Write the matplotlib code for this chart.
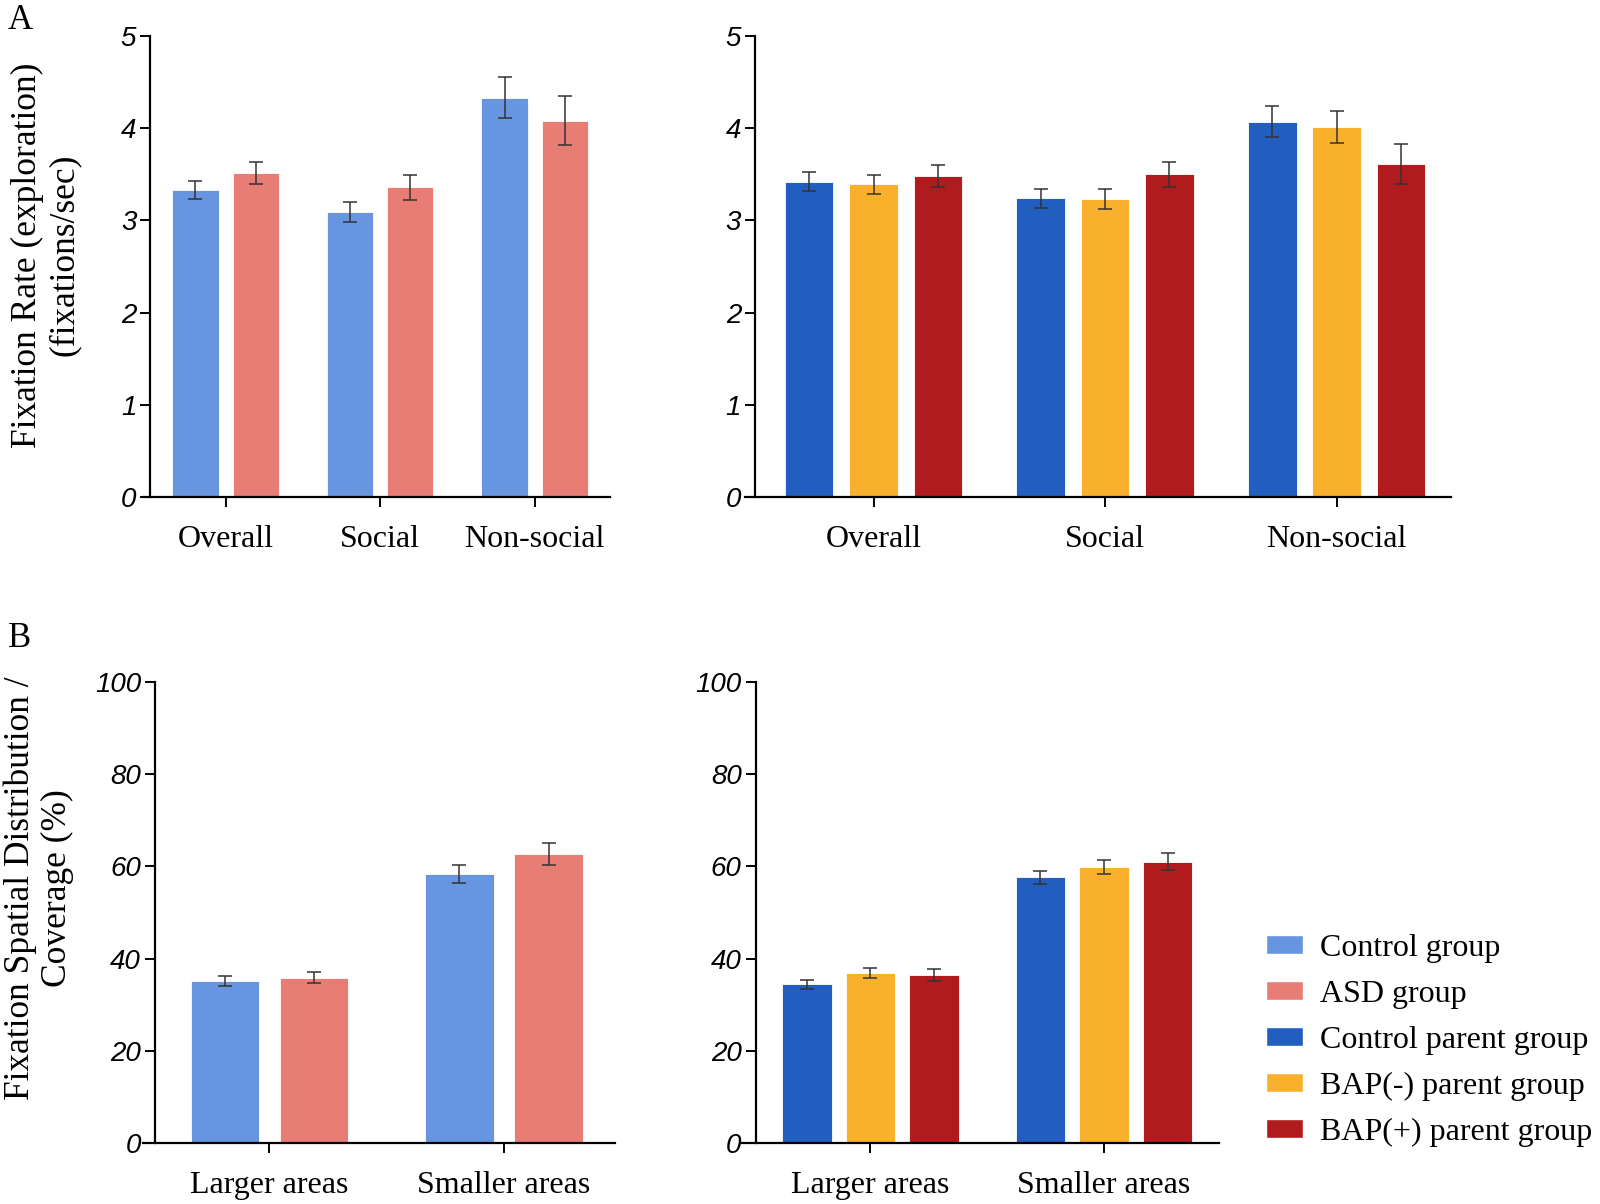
#!/usr/bin/env python3
# Fixation rate / spatial coverage bar charts (children and parents groups)

import matplotlib
matplotlib.use("Agg")
import matplotlib.pyplot as plt
from matplotlib.patches import Patch
import numpy as np

# ---------------- data ----------------
rate_cats = ["Overall", "Social", "Non-social"]
area_cats = ["Larger areas", "Smaller areas"]

child_groups = ["Control group", "ASD group"]
parent_groups = ["Control parent group", "BAP(-) parent group", "BAP(+) parent group"]

# panel A, children
rate_control = [3.33, 3.09, 4.33]
rate_control_err = [0.10, 0.11, 0.22]
rate_asd = [3.51, 3.36, 4.08]
rate_asd_err = [0.12, 0.135, 0.265]

# panel A, parents
rate_ctrl_parent = [3.42, 3.24, 4.07]
rate_ctrl_parent_err = [0.10, 0.105, 0.17]
rate_bapneg = [3.39, 3.23, 4.01]
rate_bapneg_err = [0.10, 0.11, 0.175]
rate_bappos = [3.48, 3.50, 3.61]
rate_bappos_err = [0.12, 0.135, 0.22]

# panel B, children
cov_control = [35.2, 58.4]
cov_control_err = [1.1, 1.9]
cov_asd = [35.9, 62.7]
cov_asd_err = [1.25, 2.3]

# panel B, parents
cov_ctrl_parent = [34.4, 57.6]
cov_ctrl_parent_err = [1.05, 1.4]
cov_bapneg = [36.8, 59.9]
cov_bapneg_err = [1.1, 1.45]
cov_bappos = [36.4, 61.0]
cov_bappos_err = [1.3, 1.8]

# ---------------- style ----------------
C_CTRL = "#6895e0"
C_ASD = "#e87d76"
C_PCTRL = "#225ebf"
C_BAPN = "#f9b02d"
C_BAPP = "#b01b1e"

SERIF = "Liberation Serif"
SANS = "Liberation Sans"

W, H = 1600, 1204
fig = plt.figure(figsize=(W / 100, H / 100), dpi=100)


def px_rect(l, r, t, b):
    return [l / W, 1 - b / H, (r - l) / W, (b - t) / H]


def draw_panel(rect, cats, series, errs, colors, width, offsets, xlim, yaxis_x, ylim, yticks):
    ax = fig.add_axes(rect)
    x = np.arange(len(cats))
    for vals, err, col, off in zip(series, errs, colors, offsets):
        ax.bar(x + off, vals, width=width, color=col, edgecolor="white", linewidth=0.6, zorder=2)
        ax.errorbar(x + off, vals, yerr=err, fmt="none", ecolor="#333333",
                    elinewidth=1.1, capsize=5, capthick=1.1, zorder=3)
    ax.set_xlim(*xlim)
    ax.set_ylim(*ylim)
    ax.set_yticks(list(yticks))
    ax.set_xticks(x)
    ax.set_xticklabels(cats)
    ax.spines["top"].set_visible(False)
    ax.spines["right"].set_visible(False)
    ax.spines["left"].set_position(("data", yaxis_x))
    ax.spines["left"].set_linewidth(1.6)
    ax.spines["bottom"].set_linewidth(1.6)
    ax.tick_params(axis="y", length=7, width=1.4, pad=3, labelsize=20, labelfontfamily=SANS)
    ax.tick_params(axis="x", length=7, width=1.4, pad=13, labelsize=23, labelfontfamily=SERIF)
    for lab in ax.get_yticklabels():
        lab.set_fontstyle("italic")
    return ax


# A - children
draw_panel(px_rect(143, 610, 36, 497), rate_cats,
           [rate_control, rate_asd], [rate_control_err, rate_asd_err],
           [C_CTRL, C_ASD], 0.30, [-0.195, 0.195],
           (-0.534, 2.487), -0.488, (0, 5), range(0, 6))

# A - parents
draw_panel(px_rect(745, 1451, 36, 497), rate_cats,
           [rate_ctrl_parent, rate_bapneg, rate_bappos],
           [rate_ctrl_parent_err, rate_bapneg_err, rate_bappos_err],
           [C_PCTRL, C_BAPN, C_BAPP], 0.21, [-0.278, 0.0, 0.278],
           (-0.555, 2.494), -0.512, (0, 5), range(0, 6))

# B - children
draw_panel(px_rect(143, 615, 682, 1143), area_cats,
           [cov_control, cov_asd], [cov_control_err, cov_asd_err],
           [C_CTRL, C_ASD], 0.292, [-0.19, 0.19],
           (-0.539, 1.473), -0.488, (0, 100), range(0, 101, 20))

# B - parents
draw_panel(px_rect(742, 1219, 682, 1143), area_cats,
           [cov_ctrl_parent, cov_bapneg, cov_bappos],
           [cov_ctrl_parent_err, cov_bapneg_err, cov_bappos_err],
           [C_PCTRL, C_BAPN, C_BAPP], 0.212, [-0.272, 0.0, 0.272],
           (-0.549, 1.492), -0.491, (0, 100), range(0, 101, 20))

# axis titles and panel letters
fig.text(46 / W, 1 - 255 / H, "Fixation Rate (exploration)\n(fixations/sec)",
         rotation=90, ha="center", va="center", fontfamily=SERIF, fontsize=25.5,
         linespacing=1.15)
fig.text(39 / W, 1 - 888 / H, "Fixation Spatial Distribution /\nCoverage (%)",
         rotation=90, ha="center", va="center", fontfamily=SERIF, fontsize=25.5,
         linespacing=1.15)
fig.text(8 / W, 1 - 4 / H, "A", ha="left", va="top", fontfamily=SERIF, fontsize=25)
fig.text(8 / W, 1 - 622 / H, "B", ha="left", va="top", fontfamily=SERIF, fontsize=25)

# legend
handles = [Patch(facecolor=c, edgecolor="white") for c in [C_CTRL, C_ASD, C_PCTRL, C_BAPN, C_BAPP]]
fig.legend(handles, child_groups + parent_groups, loc="upper left",
           bbox_to_anchor=(1266 / W, 1 - 934 / H), frameon=False,
           prop={"family": SERIF, "size": 23}, handlelength=1.15, handleheight=0.55,
           handletextpad=0.55, labelspacing=0.53, borderaxespad=0, borderpad=0)

fig.savefig("out.png", dpi=100, facecolor="white")
